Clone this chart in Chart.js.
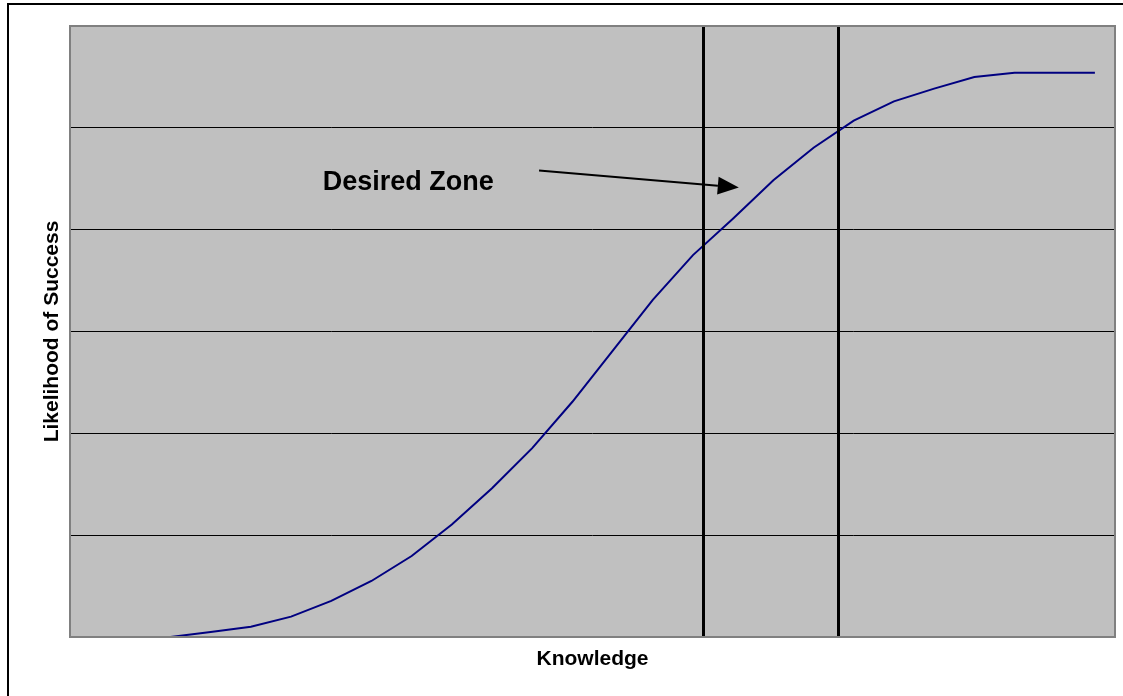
<!DOCTYPE html>
<html>
<head>
<meta charset="utf-8">
<script src="https://cdn.jsdelivr.net/npm/chart.js@4.4.0/dist/chart.umd.min.js"></script>
<style>
	html, body { margin: 0; padding: 0; background: #fff; overflow: hidden; }
	#wrap { position: absolute; left: 0; top: 0; width: 1123px; height: 696px; }
	#frame { position: absolute; left: 7px; top: 3px; width: 2000px; height: 2000px;
		border-left: 2px solid #000; border-top: 2px solid #000; pointer-events: none; }
</style>
</head>
<body>
<div id="wrap"><canvas id="chart"></canvas></div>
<div id="frame"></div>
<script>
	'use strict';
	// category positions along the knowledge axis
	const knowledge = [0, 1, 2, 3, 4, 5, 6, 7, 8, 9, 10, 11, 12, 13, 14, 15, 16, 17, 18, 19, 20, 21, 22, 23, 24, 25];
	const likelihood = [0, 0, 0, 1, 2, 4, 7.1, 11, 15.9, 22.1, 29.2, 37.1, 46.2, 56.2, 66.2, 75, 82.2, 89.7, 96.1, 101.4, 105.2, 107.7, 110, 110.8, 110.8, 110.8];
	const yMax = 120;
	const yStep = 20;
	const zoneBounds = [15.24, 18.62];
	const zoneLabel = 'Desired Zone';
	const labelAt = { x: 5.79, y: 87.7 };
	const arrowFrom = { x: 11.17, y: 91.6 };
	const arrowTo = { x: 16.14, y: 88.3 };

	const FONT = 'Arial, "Liberation Sans", sans-serif';

	const plotFrame = {
		id: 'plotFrame',
		beforeDraw(chart) {
			const { ctx, chartArea: a } = chart;
			ctx.save();
			ctx.fillStyle = '#c0c0c0';
			ctx.fillRect(a.left, a.top, a.right - a.left, a.bottom - a.top);
			ctx.restore();
		},
		afterDatasetsDraw(chart) {
			const { ctx, chartArea: a, scales: { x, y } } = chart;
			ctx.save();
			// zone boundaries
			ctx.strokeStyle = '#000';
			ctx.lineWidth = 3;
			for (const v of zoneBounds) {
				const px = Math.round(x.getPixelForValue(v)) + 0.5;
				ctx.beginPath();
				ctx.moveTo(px, a.top);
				ctx.lineTo(px, a.bottom);
				ctx.stroke();
			}
			// plot border
			ctx.strokeStyle = '#808080';
			ctx.lineWidth = 2;
			ctx.strokeRect(a.left, a.top, a.right - a.left, a.bottom - a.top);

			// label + arrow
			ctx.fillStyle = '#000';
			ctx.strokeStyle = '#000';
			ctx.font = 'bold 27px ' + FONT;
			ctx.textAlign = 'left';
			ctx.textBaseline = 'alphabetic';
			ctx.fillText(zoneLabel, x.getPixelForValue(labelAt.x), y.getPixelForValue(labelAt.y));

			const x0 = x.getPixelForValue(arrowFrom.x), y0 = y.getPixelForValue(arrowFrom.y);
			const x1 = x.getPixelForValue(arrowTo.x), y1 = y.getPixelForValue(arrowTo.y);
			const ang = Math.atan2(y1 - y0, x1 - x0);
			const headLen = 21, headHalf = 9;
			const bx = x1 - headLen * Math.cos(ang), by = y1 - headLen * Math.sin(ang);
			ctx.lineWidth = 2;
			ctx.beginPath();
			ctx.moveTo(x0, y0);
			ctx.lineTo(bx, by);
			ctx.stroke();
			ctx.beginPath();
			ctx.moveTo(x1, y1);
			ctx.lineTo(bx + headHalf * Math.sin(ang), by - headHalf * Math.cos(ang));
			ctx.lineTo(bx - headHalf * Math.sin(ang), by + headHalf * Math.cos(ang));
			ctx.closePath();
			ctx.fill();
			ctx.restore();
		}
	};

	new Chart(document.getElementById('chart'), {
		type: 'line',
		data: {
			datasets: [{
				data: knowledge.map((k, i) => ({ x: k, y: likelihood[i] })),
				borderColor: '#000080',
				borderWidth: 2,
				pointRadius: 0,
				tension: 0,
				fill: false
			}]
		},
		options: {
			responsive: true,
			maintainAspectRatio: false,
			animation: false,
			events: [],
			layout: { padding: { left: 30, right: 8, top: 26, bottom: 20.4 } },
			plugins: { legend: { display: false }, tooltip: { enabled: false } },
			scales: {
				x: {
					type: 'linear',
					min: -0.5,
					max: 25.5,
					grid: { display: false, drawTicks: false },
					border: { display: false },
					ticks: { display: false },
					title: {
						display: true, text: 'Knowledge', color: '#000',
						font: { family: FONT, size: 21, weight: 'bold', lineHeight: 1.2 },
						padding: { top: 9.4, bottom: 4 }
					}
				},
				y: {
					min: 0,
					max: yMax,
					ticks: { display: false, stepSize: yStep },
					grid: { color: '#000', lineWidth: 1, drawTicks: false },
					border: { display: false },
					title: {
						display: true, text: 'Likelihood of Success', color: '#000',
						font: { family: FONT, size: 21, weight: 'bold', lineHeight: 1.2 },
						padding: { top: 9.4, bottom: 5.4 }
					}
				}
			}
		},
		plugins: [plotFrame]
	});
</script>
</body>
</html>
